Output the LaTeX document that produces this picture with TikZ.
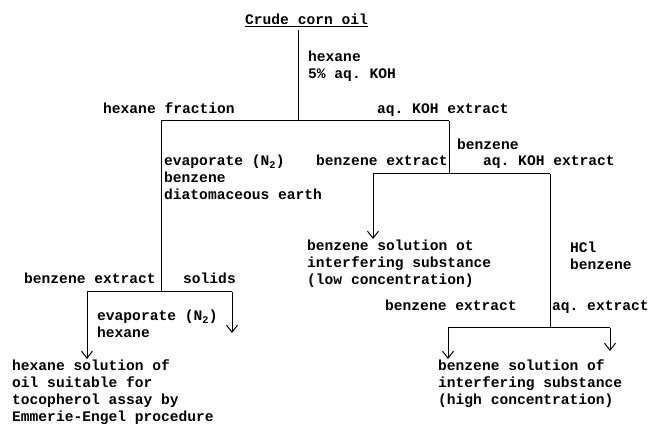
\documentclass[tikz,border=0pt]{standalone}
\usepackage{fontspec}
\setmonofont{Liberation Mono}
\usetikzlibrary{arrows.meta}
\begin{document}
\begin{tikzpicture}[x=1pt,y=-1pt,
  lbl/.style={font=\fontsize{14.6}{16.7}\selectfont\ttfamily\bfseries, inner sep=0pt, anchor=base west, align=left},
  ln/.style={line width=1pt},
  arr/.style={ln, -{Straight Barb[length=7pt,width=11pt]}}]
\useasboundingbox[fill=white] (0,0) rectangle (648,427);
% texts (anchor = baseline of the last line)
\node[lbl] (crude) at (245,25) {\underline{Crude corn oil}};
\node[lbl] (t1) at (308,78.7) {hexane\\5\% aq. KOH};
\node[lbl] (hexfrac) at (103,114) {hexane fraction};
\node[lbl] (koh1) at (377,114) {aq. KOH extract};
\node[lbl] (benz1) at (457,150) {benzene};
\node[lbl] (evap1) at (164,199.4) {evaporate (N\textsubscript{2})\\benzene\\diatomaceous earth};
\node[lbl] (bext1) at (316,166) {benzene extract};
\node[lbl] (koh2) at (483,166) {aq. KOH extract};
\node[lbl] (low) at (307,284.4) {benzene solution ot\\interfering substance\\(low concentration)};
\node[lbl] (hcl) at (570,269.7) {HCl\\benzene};
\node[lbl] (bext3) at (24,284) {benzene extract};
\node[lbl] (solids) at (183,284) {solids};
\node[lbl] (bext2) at (385,311) {benzene extract};
\node[lbl] (aqext) at (552,311) {aq. extract};
\node[lbl] (evap2) at (97,337.7) {evaporate (N\textsubscript{2})\\hexane};
\node[lbl] (hexsol) at (12,421) {hexane solution of\\oil suitable for\\tocopherol assay by\\Emmerie-Engel procedure};
\node[lbl] (high) at (438,404.4) {benzene solution of\\interfering substance\\(high concentration)};
% junctions
\coordinate (top) at (298,30);
\coordinate (j1) at (298,121);
\coordinate (j1l) at (161,121);
\coordinate (j1r) at (449,121);
\coordinate (j2) at (449,174);
\coordinate (j2l) at (373,174);
\coordinate (j2r) at (550,174);
\coordinate (a1) at (373,239);
\coordinate (j3) at (161,292);
\coordinate (j3l) at (87,292);
\coordinate (j3r) at (232,292);
\coordinate (a3l) at (87,359);
\coordinate (a3r) at (232,333);
\coordinate (j4) at (550,328);
\coordinate (j4l) at (448,328);
\coordinate (j4r) at (610,328);
\coordinate (a4l) at (448,359);
\coordinate (a4r) at (610,351);
% connectors
\draw[ln] (top) -- (j1);
\draw[ln] (j1l) -- (j1r);
\draw[ln] (j1r) -- (j2);
\draw[ln] (j2l) -- (j2r);
\draw[arr] (j2l) -- (a1);
\draw[ln] (j2r) -- (j4);
\draw[ln] (j4l) -- (j4r);
\draw[arr] (j4l) -- (a4l);
\draw[arr] (j4r) -- (a4r);
\draw[ln] (j1l) -- (j3);
\draw[ln] (j3l) -- (j3r);
\draw[arr] (j3l) -- (a3l);
\draw[arr] (j3r) -- (a3r);
\end{tikzpicture}
\end{document}
